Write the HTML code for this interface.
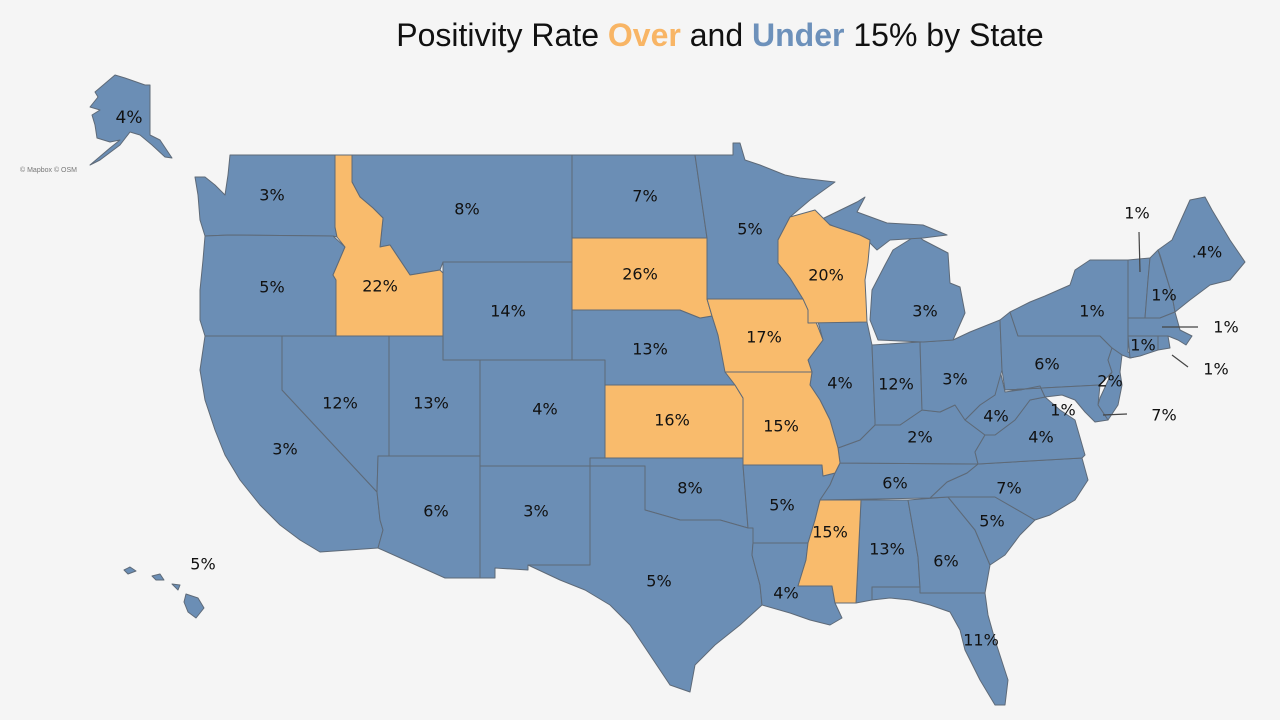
<!DOCTYPE html>
<html><head><meta charset="utf-8"><style>
body{margin:0;background:#f5f5f5;width:1280px;height:720px;overflow:hidden;font-family:"Liberation Sans",sans-serif;}
.t{position:absolute;left:0;width:1440px;top:17px;text-align:center;font-size:32px;color:#111;}
.t b{font-weight:bold}
svg{position:absolute;left:0;top:0}
svg text{font-family:"DejaVu Sans","Liberation Sans",sans-serif;font-size:16px;fill:#111;text-anchor:middle;dominant-baseline:middle}
</style></head><body>
<div class="t">Positivity Rate <b style="color:#f8b565">Over</b> and <b style="color:#6d91bb">Under</b> 15% by State</div>
<svg width="1280" height="720" viewBox="0 0 1280 720">
<g fill="#6b8eb5" stroke="#5e6a78" stroke-width="1" stroke-linejoin="round">
<polygon points="115,75 125,78 145,85 150,85 150,135 160,140 170,155 172,158 165,157 152,145 140,135 130,132 120,145 100,160 90,165 110,148 120,140 110,142 97,138 95,125 92,115 100,110 90,107 98,97 95,92"/>
<polygon points="124,570 130,567 136,571 128,574"/><polygon points="152,576 160,574 164,580 156,580"/><polygon points="172,584 180,585 178,590"/><polygon points="186,594 198,598 204,608 196,618 188,612 184,602"/>
<polygon points="230,155 335,155 335,227 337,237 333,236 230,235 205,236 200,220 198,195 195,177 205,177 215,185 225,195 228,175"/>
<polygon points="205,236 230,235 333,236 345,247 333,275 336,280 336,336 205,336 200,320 200,290 203,260"/>
<polygon points="205,336 282,336 282,390 377,492 380,520 383,530 378,548 320,552 300,540 280,525 260,505 240,480 225,455 215,430 205,400 200,370"/>
<polygon points="282,336 389,336 389,456 378,456 377,492 282,390"/>
<polygon points="352,155 572,155 572,262 443,262 440,270 410,275 390,245 380,247 383,218 373,208 360,197 352,182"/>
<polygon points="443,262 572,262 572,360 443,360"/>
<polygon points="389,336 443,336 443,360 480,360 480,456 389,456"/>
<polygon points="480,360 605,360 605,466 480,466"/>
<polygon points="389,456 480,456 480,578 445,578 378,548 383,530 380,520 377,492 378,456"/>
<polygon points="480,466 590,466 590,565 528,565 528,570 495,568 495,578 480,578"/>
<polygon points="572,155 695,155 707,238 572,238"/>
<polygon points="572,310 680,310 700,318 712,316 718,335 725,360 735,385 605,385 605,360 572,360"/>
<polygon points="590,458 743,458 743,465 748,528 720,520 680,520 645,510 645,466 590,466"/>
<polygon points="590,466 645,466 645,510 680,520 720,520 748,528 753,528 753,543 752,555 760,585 762,605 740,625 715,645 695,665 690,692 670,685 660,670 650,655 630,625 610,605 585,590 560,580 528,565 590,565"/>
<polygon points="695,155 733,155 733,143 740,143 745,160 760,165 785,175 800,178 835,182 810,200 790,217 778,240 778,263 790,278 803,299 707,299 707,238"/>
<polygon points="743,465 822,465 823,476 835,473 830,485 820,500 815,520 808,543 753,543 753,528 748,528"/>
<polygon points="753,543 808,543 806,560 798,586 832,586 835,603 842,618 830,625 810,620 790,613 762,605 760,585 752,555"/>
<polygon points="861,500 908,500 918,557 920,587 872,587 872,600 856,603"/>
<polygon points="908,500 948,497 975,530 990,565 985,593 920,593 920,587 918,557"/>
<polygon points="872,587 920,587 920,593 985,593 988,615 995,640 1008,680 1005,705 995,705 980,680 965,650 960,630 950,612 930,605 910,600 890,598 872,600"/>
<polygon points="948,497 995,497 1035,520 1020,535 1005,555 990,565 975,530"/>
<polygon points="930,498 947,482 967,473 978,464 1082,458 1088,480 1075,500 1050,515 1035,520 995,497 948,497"/>
<polygon points="840,463 978,464 967,473 947,482 930,498 820,500 830,485 835,473"/>
<polygon points="840,463 838,448 860,440 875,425 900,425 922,410 940,412 955,405 965,420 985,435 975,452 978,464"/>
<polygon points="975,452 985,435 995,435 1015,420 1030,400 1045,397 1060,410 1075,420 1085,455 1082,458 978,464"/>
<polygon points="965,420 980,405 995,395 1000,370 1005,392 1020,390 1040,386 1045,397 1030,400 1015,420 995,435 985,435"/>
<polygon points="818,322 867,322 872,345 875,420 875,425 860,440 838,448 830,420 820,400 810,385 812,372 808,360 823,340"/>
<polygon points="872,345 920,342 922,410 900,425 875,425 875,420"/>
<polygon points="920,342 953,340 970,332 1000,320 1002,370 995,395 980,405 965,420 955,405 940,412 922,410"/>
<polygon points="878,340 870,320 872,290 885,265 893,250 917,235 923,240 948,253 950,283 960,287 965,313 953,340 923,342"/>
<polygon points="820,220 857,202 865,197 857,212 887,223 923,225 947,235 923,238 890,240 877,250 870,243 863,240"/>
<polygon points="1000,320 1010,312 1018,336 1100,336 1112,348 1108,360 1112,372 1100,385 1005,390 1002,370"/>
<polygon points="1010,312 1018,336 1100,336 1112,348 1122,355 1130,358 1138,356 1128,352 1128,318 1128,260 1090,260 1075,270 1070,285 1045,296 1030,302"/>
<polygon points="1112,348 1122,355 1120,372 1122,385 1118,405 1108,420 1098,405 1100,398 1112,372 1108,360"/>
<polygon points="1005,390 1100,385 1098,405 1108,420 1095,422 1085,412 1075,400 1062,395 1045,397 1040,386 1020,390"/>
<polygon points="1128,260 1150,258 1148,280 1145,318 1128,318"/>
<polygon points="1150,258 1158,250 1172,295 1175,312 1160,318 1145,318 1148,280"/>
<polygon points="1158,250 1172,240 1190,200 1205,197 1212,210 1230,240 1245,262 1230,280 1210,285 1190,300 1175,312 1172,295 1160,255"/>
<polygon points="1128,318 1160,318 1175,312 1180,330 1192,336 1186,345 1178,340 1168,336 1158,336 1128,336"/>
<polygon points="1128,336 1158,336 1158,350 1140,356 1130,358"/>
<polygon points="1158,336 1168,336 1170,348 1158,350"/>
</g>
<g fill="#f9bb6c" stroke="#5e6a78" stroke-width="1" stroke-linejoin="round">
<polygon points="335,155 352,155 352,182 360,197 373,208 383,218 380,247 390,245 410,275 440,270 443,273 443,336 336,336 336,280 333,275 345,247 337,237 335,227"/>
<polygon points="572,238 707,238 707,299 712,316 700,318 680,310 572,310"/>
<polygon points="707,299 803,299 808,303 818,327 823,340 808,360 812,372 725,372 718,335 712,316"/>
<polygon points="605,385 735,385 743,398 743,458 605,458"/>
<polygon points="725,372 812,372 810,385 820,400 830,420 838,448 840,463 835,473 823,476 822,465 743,465 743,398 735,385"/>
<polygon points="790,217 815,210 830,225 860,235 870,240 868,262 865,280 866,300 867,322 808,323 808,310 803,299 790,278 778,263 778,240"/>
<polygon points="820,500 861,500 856,603 835,603 832,586 798,586 806,560 808,543 815,520"/>
</g>
<g stroke="#444" stroke-width="1.2">
<line x1="1139" y1="232" x2="1140" y2="272"/>
<line x1="1162" y1="327" x2="1198" y2="327"/>
<line x1="1172" y1="355" x2="1188" y2="367"/>
<line x1="1103" y1="415" x2="1127" y2="414"/>
</g>
<g>
<text x="129" y="118" style="font-size:17px">4%</text>
<text x="203" y="565">5%</text>
<text x="272" y="196">3%</text>
<text x="272" y="288">5%</text>
<text x="380" y="287">22%</text>
<text x="467" y="210">8%</text>
<text x="508" y="312">14%</text>
<text x="645" y="197">7%</text>
<text x="640" y="275">26%</text>
<text x="750" y="230">5%</text>
<text x="826" y="276">20%</text>
<text x="764" y="338">17%</text>
<text x="650" y="350">13%</text>
<text x="340" y="404">12%</text>
<text x="431" y="404">13%</text>
<text x="545" y="410">4%</text>
<text x="285" y="450">3%</text>
<text x="672" y="421">16%</text>
<text x="781" y="427">15%</text>
<text x="840" y="384">4%</text>
<text x="896" y="385">12%</text>
<text x="925" y="312">3%</text>
<text x="955" y="380">3%</text>
<text x="920" y="438">2%</text>
<text x="996" y="417">4%</text>
<text x="1041" y="438">4%</text>
<text x="1047" y="365">6%</text>
<text x="1092" y="312">1%</text>
<text x="1110" y="382">2%</text>
<text x="1063" y="411">1%</text>
<text x="1143" y="346">1%</text>
<text x="1164" y="296">1%</text>
<text x="1207" y="253">.4%</text>
<text x="1137" y="214">1%</text>
<text x="1226" y="328">1%</text>
<text x="1216" y="370">1%</text>
<text x="1164" y="416">7%</text>
<text x="436" y="512">6%</text>
<text x="536" y="512">3%</text>
<text x="690" y="489">8%</text>
<text x="782" y="506">5%</text>
<text x="895" y="484">6%</text>
<text x="1009" y="489">7%</text>
<text x="992" y="522">5%</text>
<text x="830" y="533">15%</text>
<text x="887" y="550">13%</text>
<text x="946" y="562">6%</text>
<text x="659" y="582">5%</text>
<text x="786" y="594">4%</text>
<text x="981" y="641">11%</text>
<text x="20" y="170" style="font-size:7px;fill:#777;text-anchor:start;font-family:'Liberation Sans',sans-serif">© Mapbox © OSM</text>
</g>
</svg>
</body></html>
